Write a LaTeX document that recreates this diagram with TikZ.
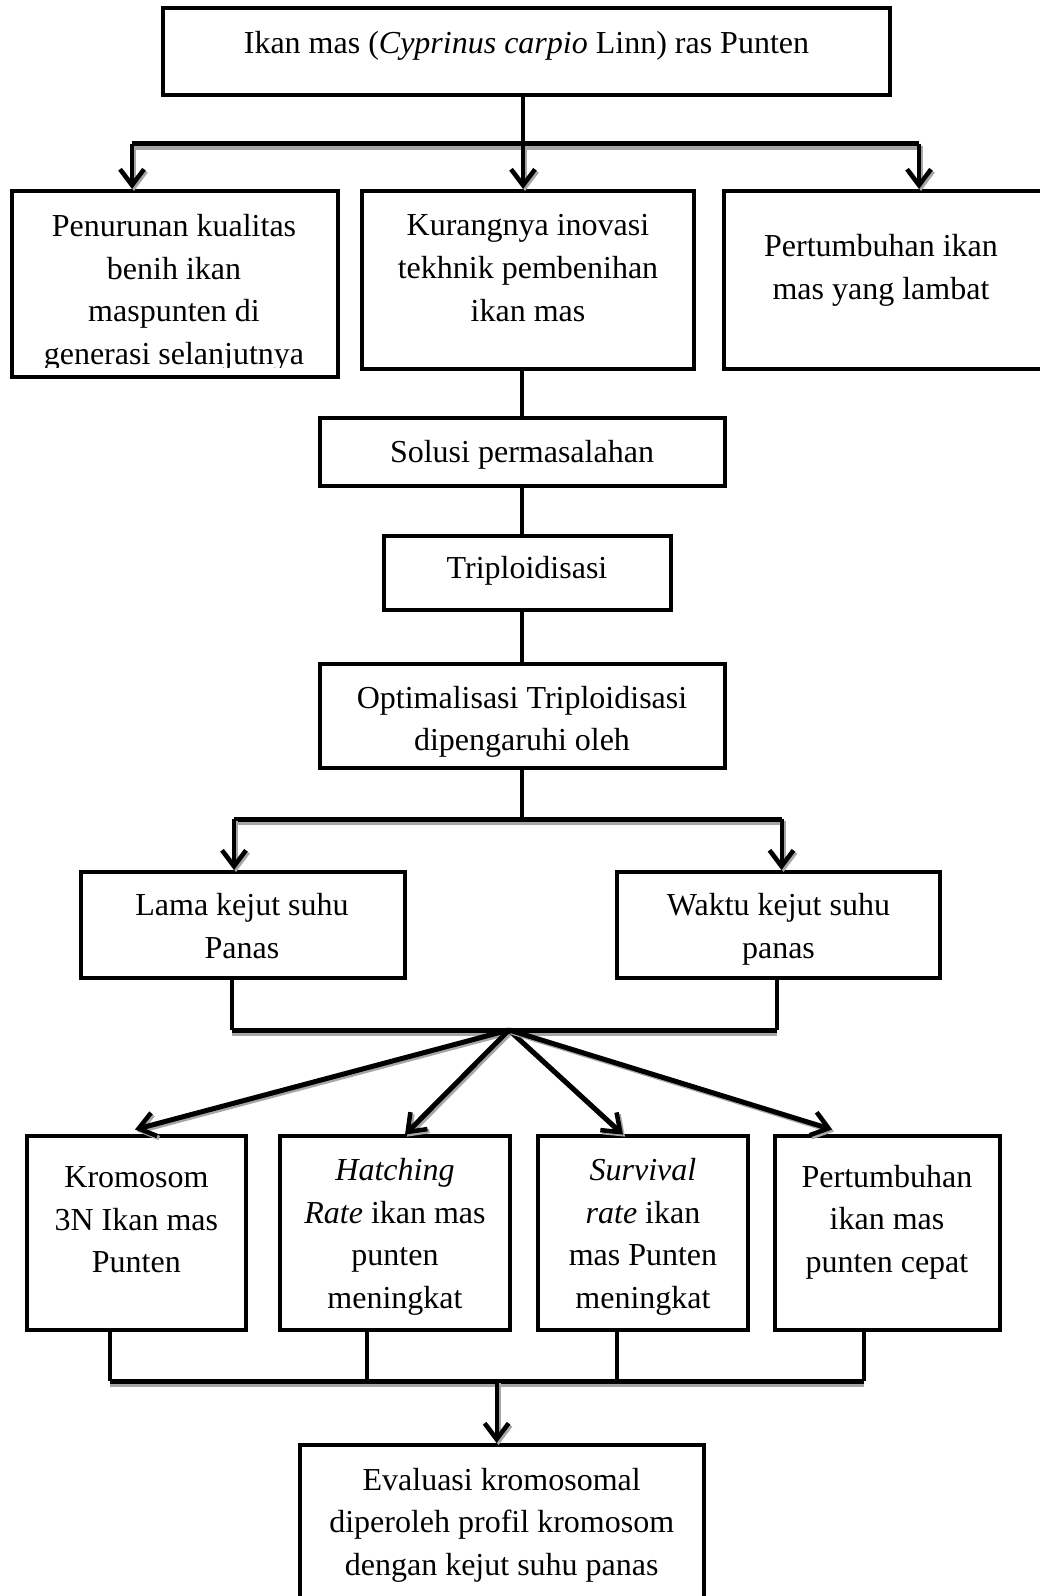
\documentclass[tikz,border=0pt]{standalone}
\usepackage{fontspec}
\setmainfont{Liberation Serif}
\usetikzlibrary{arrows.meta}
\newcommand\sarrow[3][]{%
  \draw[arr,#1,draw=black!35] ([shift={(2pt,-2pt)}]#2) -- ([shift={(2pt,-2pt)}]#3);
  \draw[arr,#1] (#2) -- (#3);}
\begin{document}
\begin{tikzpicture}[x=1pt,y=-1pt,
  box/.style={draw, line width=4pt, inner sep=0pt, fill=white},
  txt/.style={align=center, inner sep=0pt, font=\fontsize{32pt}{42.6pt}\selectfont},
  conn/.style={line width=4pt},
  arr/.style={line width=4pt, -{Straight Barb[length=16pt,width=24pt,line width=4.5pt]}},
  diag/.style={line width=5pt},
  bar/.style={line width=5pt},
  shad/.style={line width=4pt, black!35}]
\useasboundingbox (0,0) rectangle (1040,1596);
\clip (0,0) rectangle (1040,1596);
% ---- boxes ----
\node[box, minimum width=727pt, minimum height=87pt] (T) at (526.5,51.5) {};
\node[box, minimum width=326pt, minimum height=186.5pt] (A) at (175,284.2) {};
\node[box, minimum width=332pt, minimum height=178pt] (B) at (528,280) {};
\node[box, minimum width=330pt, minimum height=178pt] (C) at (888.5,280) {};
\node[box, minimum width=405pt, minimum height=67.5pt] (S) at (522,451.8) {};
\node[box, minimum width=287pt, minimum height=74.5pt] (TR) at (527,573.2) {};
\node[box, minimum width=405pt, minimum height=104.5pt] (O) at (522,715.8) {};
\node[box, minimum width=323.6pt, minimum height=106pt] (L) at (243.2,925) {};
\node[box, minimum width=323.3pt, minimum height=106pt] (W) at (778.3,925) {};
\node[box, minimum width=218.5pt, minimum height=194.4pt] (K) at (136.7,1232.8) {};
\node[box, minimum width=230pt, minimum height=194.4pt] (H) at (395,1232.8) {};
\node[box, minimum width=210pt, minimum height=194.4pt] (SR) at (643,1232.8) {};
\node[box, minimum width=225pt, minimum height=194.4pt] (P) at (887.8,1232.8) {};
\node[box, minimum width=404pt, minimum height=220pt] (E) at (502,1555) {};
% ---- texts ----
\node[txt] (tT) at (526.5,46) {Ikan mas (\textit{Cyprinus carpio} Linn) ras Punten};
\begin{scope}
\clip (14,193) rectangle (336,367);
\node[txt] (tA) at (174,293) {Penurunan kualitas\\benih ikan\\maspunten di\\generasi selanjutnya};
\end{scope}
\node[txt] (tB) at (528,268) {Kurangnya inovasi\\tekhnik pembenihan\\ikan mas};
\node[txt] (tC) at (881,270.5) {Pertumbuhan ikan\\mas yang lambat};
\node[txt] (tS) at (522,455) {Solusi permasalahan};
\node[txt] (tTR) at (527,571) {Triploidisasi};
\node[txt] (tO) at (522,722) {Optimalisasi Triploidisasi\\dipengaruhi oleh};
\node[txt] (tL) at (242,926) {Lama kejut suhu\\Panas};
\node[txt] (tW) at (778.5,929) {Waktu kejut suhu\\panas};
\node[txt] (tK) at (136.4,1220) {Kromosom\\3N Ikan mas\\Punten};
\node[txt] (tH) at (395,1237) {\textit{Hatching}\\\textit{Rate} ikan mas\\punten\\meningkat};
\node[txt] (tSR) at (643,1237) {\textit{Survival}\\\textit{rate} ikan\\mas Punten\\meningkat};
\node[txt] (tP) at (887,1222) {Pertumbuhan\\ikan mas\\punten cepat};
\node[txt] (tE) at (501.7,1525) {Evaluasi kromosomal\\diperoleh profil kromosom\\dengan kejut suhu panas};
% ---- coordinates ----
\coordinate (j1) at (523,143.5);
\coordinate (j1l) at (132,143.5);
\coordinate (j1r) at (919,143.5);
\coordinate (aA) at (j1l |- A.north);
\coordinate (aB) at (j1 |- B.north);
\coordinate (aC) at (j1r |- C.north);
\coordinate (j2) at (522,819);
\coordinate (j2l) at (234,819);
\coordinate (j2r) at (781.5,819);
\coordinate (aL) at (j2l |- L.north);
\coordinate (aW) at (j2r |- W.north);
\coordinate (j3) at (509,1030);
\coordinate (j3l) at (232,1030);
\coordinate (j3r) at (776.5,1030);
\coordinate (aK) at (135,1129.5);
\coordinate (aH) at (405,1134.6);
\coordinate (aSR) at (623,1134.6);
\coordinate (aP) at (832,1129.5);
\coordinate (j4l) at (110,1381);
\coordinate (j4r) at (864,1381);
\coordinate (j4) at (496.6,1381);
\coordinate (aE) at (j4 |- E.north);
% ---- connectors top ----
\draw[conn] (T.south -| j1) -- (j1);
\draw[shad] ([yshift=-4pt]j1l) -- ([yshift=-4pt]j1r);
\draw[bar] (j1l) -- (j1r);
\sarrow{j1l}{aA}
\sarrow{j1}{aB}
\sarrow{j1r}{aC}
\draw[conn] (B.south -| S.north) -- (S.north);
\draw[conn] (S.south) -- (S.south |- TR.north);
\draw[conn] (TR.south -| O.north) -- (O.north);
\draw[conn] (O.south) -- (j2);
\draw[shad] ([yshift=-4pt]j2l) -- ([yshift=-4pt]j2r);
\draw[bar] (j2l) -- (j2r);
\sarrow{j2l}{aL}
\sarrow{j2r}{aW}
\draw[conn] (L.south -| j3l) -- (j3l);
\draw[conn] (W.south -| j3r) -- (j3r);
\draw[shad] ([yshift=-4pt]j3l) -- ([yshift=-4pt]j3r);
\draw[bar] (j3l) -- (j3r);
% ---- diagonal arrows ----
\sarrow[diag]{j3}{aK}
\sarrow[diag]{j3}{aH}
\sarrow[diag]{j3}{aSR}
\sarrow[diag]{j3}{aP}
% ---- bottom ----
\draw[conn] (K.south -| j4l) -- (j4l);
\draw[conn] (H.south -| 367,0) -- (367,1381);
\draw[conn] (SR.south -| 617,0) -- (617,1381);
\draw[conn] (P.south -| j4r) -- (j4r);
\draw[shad] ([yshift=-4pt]j4l) -- ([yshift=-4pt]j4r);
\draw[bar] (j4l) -- (j4r);
\sarrow{j4}{aE}
\end{tikzpicture}
\end{document}
